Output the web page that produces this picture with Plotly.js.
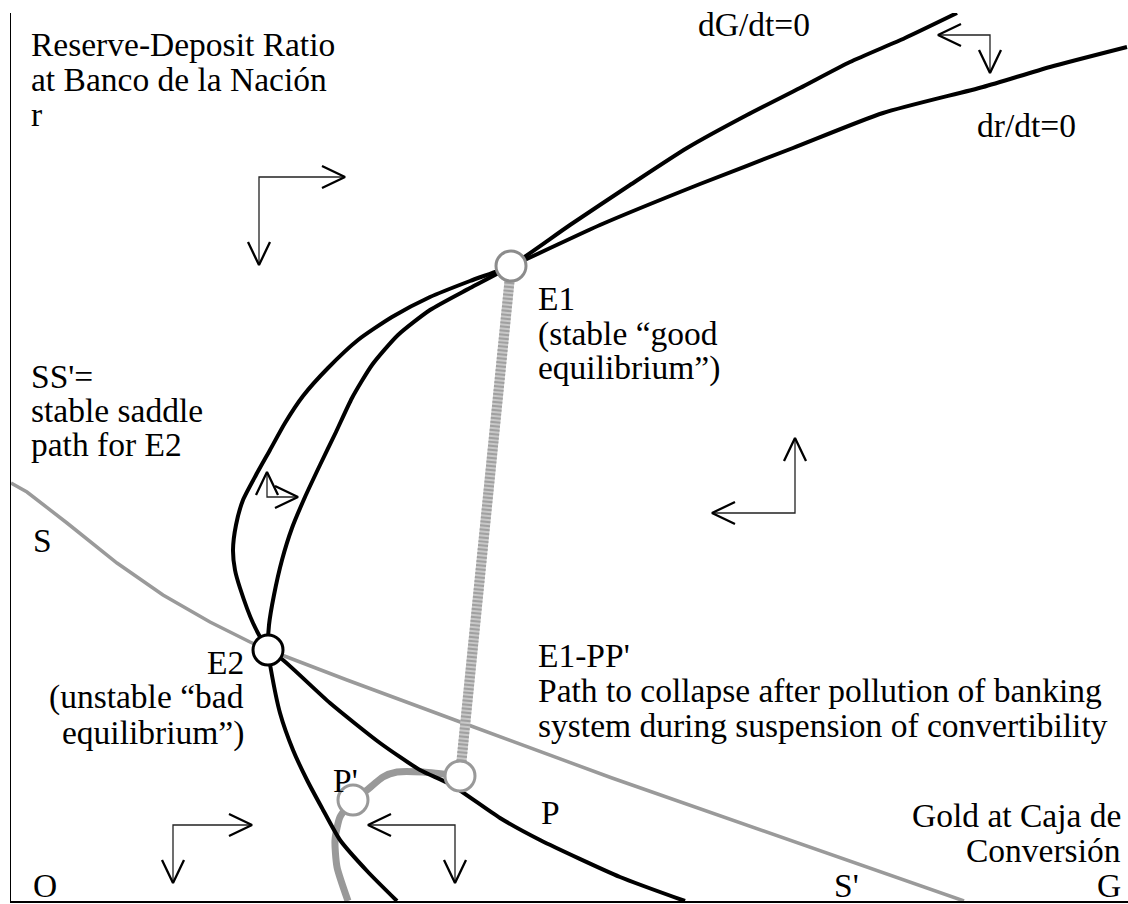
<!DOCTYPE html>
<html>
<head>
<meta charset="utf-8">
<script src="https://cdn.plot.ly/plotly-3.0.1.min.js"></script>
<style>html,body{margin:0;padding:0;background:#fff;}#chart{width:1128px;height:904px;}</style>
</head>
<body>
<div id="chart"></div>
<script>
// ---- Data (G = gold at Caja de Conversión, r = reserve-deposit ratio), chart units ----
// dG/dt = 0 locus
const dGdt0_G = [946, 894, 839, 789, 736, 676, 619, 559, 500, 459, 419, 387, 361, 341, 325, 309, 294, 281, 271, 263, 258, 257, 260, 269, 282, 296, 311, 329, 357, 386];
const dGdt0_r = [888, 863, 839, 813, 786, 753, 716, 676, 635, 613, 591, 566, 536, 503, 469, 436, 404, 373, 341, 306, 276, 251, 231, 188, 151, 121, 93, 61, 29, 0];
// dr/dt = 0 locus
const drdt0_G = [1116, 1039, 972, 872, 782, 689, 589, 500, 459, 419, 381, 347, 317, 292, 274, 259, 245, 232, 225, 222, 224, 229, 242, 257, 272, 319, 369, 409, 439, 489, 529, 609, 674];
const drdt0_r = [854, 834, 814, 788, 753, 717, 676, 635, 620, 604, 584, 561, 533, 505, 478, 451, 426, 401, 376, 351, 331, 313, 278, 251, 241, 198, 158, 131, 117, 83, 61, 24, 0];
// SS' stable saddle path for E2
const saddle_G = [0, 16, 56, 106, 152, 199, 239, 257, 276, 336, 452, 519, 601, 953];
const saddle_r = [418, 409, 378, 338, 306, 279, 259, 251, 244, 221, 178, 153, 123, 0];
// P -> P' collapse path
const collapse_G = [449, 412, 386, 372, 356, 342, 329, 324, 326, 337];
const collapse_r = [125, 129, 129, 124, 111, 101, 84, 61, 34, 0];
// Points: E1, E2, P, P'
const pointNames = ["E1", "E2", "P", "P'"];
const point_G = [500, 257, 449, 342];
const point_r = [635, 251, 125, 101];
// Phase arrows: corner, horizontal tip (G), vertical tip (r)
const arrowCorner_G = [248, 784, 162, 444, 979, 256];
const arrowCorner_r = [724, 388, 76, 76, 866, 404];
const arrowTip_G = [334, 701, 241, 357, 927, 287];
const arrowTip_r = [636, 463, 18, 18, 828, 429];
// Text labels
const labelText = [
  "Reserve-Deposit Ratio", "at Banco de la Nación", "r",
  "dG/dt=0", "dr/dt=0",
  "E1", "(stable \u201cgood", "equilibrium\u201d)",
  "SS'=", "stable saddle", "path for E2", "S",
  "E2", "(unstable \u201cbad", "equilibrium\u201d)",
  "E1-PP'", "Path to collapse after pollution of banking", "system during suspension of convertibility",
  "P'", "P",
  "Gold at Caja de", "Conversión", "G",
  "O", "S'"
];
const labelG = [19, 19, 19, 686, 965, 526, 526, 526, 19, 19, 19, 21, 234, 234, 234, 526, 526, 526, 321, 529, 1111, 1111, 1111, 21, 822];
const labelR = [857, 822, 787, 877, 776, 603, 567, 533, 525, 491, 457, 361, 239, 204, 168, 246, 211, 176, 121, 89, 86, 51, 16, 16, 16];
const labelAlign = ["left","left","left","left","left","left","left","left","left","left","left","left",
  "right","right","right","left","left","left","left","left","right","right","right","left","left"];

// ---- Build traces ----
const traces = [];
traces.push({x: saddle_G, y: saddle_r, mode: 'lines', line: {color: '#9a9a9a', width: 3.5}, hoverinfo: 'skip'});
// checkered link E1 -> P
traces.push({x: [point_G[0], point_G[2]], y: [point_r[0], point_r[2]], mode: 'lines', line: {color: '#c8c8c8', width: 10}, hoverinfo: 'skip'});
traces.push({x: [point_G[0], point_G[2]], y: [point_r[0], point_r[2]], mode: 'lines', line: {color: '#a0a0a0', width: 10, dash: '2px,2px'}, hoverinfo: 'skip'});
traces.push({x: collapse_G, y: collapse_r, mode: 'lines', line: {color: '#999999', width: 7, shape: 'spline', smoothing: 0.6}, hoverinfo: 'skip'});
traces.push({x: dGdt0_G, y: dGdt0_r, mode: 'lines', line: {color: '#000', width: 4, shape: 'spline', smoothing: 0.6}, hoverinfo: 'skip'});
traces.push({x: drdt0_G, y: drdt0_r, mode: 'lines', line: {color: '#000', width: 4, shape: 'spline', smoothing: 0.6}, hoverinfo: 'skip'});

// arrows
const headLen = 23, headHalf = 11;
const shaftX = [], shaftY = [], headX = [], headY = [];
for (let i = 0; i < arrowCorner_G.length; i++) {
  const cg = arrowCorner_G[i], cr = arrowCorner_r[i], tg = arrowTip_G[i], tr = arrowTip_r[i];
  shaftX.push(tg, cg, cg, null); shaftY.push(cr, cr, tr, null);
  const sx = Math.sign(tg - cg), sy = Math.sign(tr - cr);
  headX.push(tg - sx * headLen, tg, tg - sx * headLen, null);
  headY.push(cr + headHalf, cr, cr - headHalf, null);
  headX.push(cg - headHalf, cg, cg + headHalf, null);
  headY.push(tr - sy * headLen, tr, tr - sy * headLen, null);
}
traces.push({x: shaftX, y: shaftY, mode: 'lines', line: {color: '#222', width: 1.3}, hoverinfo: 'skip'});
traces.push({x: headX, y: headY, mode: 'lines', line: {color: '#000', width: 2.3}, hoverinfo: 'skip'});

// equilibrium points
traces.push({x: point_G, y: point_r, text: pointNames, mode: 'markers', cliponaxis: false,
  marker: {size: 30, color: '#fff', line: {width: 3, color: ['#8c8c8c', '#000', '#999', '#999']}}, hoverinfo: 'skip'});

const annotations = labelText.map((t, i) => ({
  text: t, x: labelG[i], y: labelR[i], xref: 'x', yref: 'y', showarrow: false,
  xanchor: labelAlign[i], yanchor: 'middle', align: labelAlign[i], borderpad: 0,
  font: {family: 'Liberation Serif, Times New Roman, serif', size: 33.5, color: '#000'}
}));

const layout = {
  width: 1128, height: 904,
  margin: {l: 11, r: 0, t: 13, b: 3, pad: 0},
  paper_bgcolor: '#fff', plot_bgcolor: '#fff',
  showlegend: false, hovermode: false,
  xaxis: {range: [0, 1117], showgrid: false, zeroline: false, showticklabels: false, ticks: '',
    showline: true, linecolor: '#000', linewidth: 1.5, fixedrange: true},
  yaxis: {range: [0, 888], showgrid: false, zeroline: false, showticklabels: false, ticks: '',
    showline: true, linecolor: '#000', linewidth: 1.5, fixedrange: true},
  annotations: annotations
};

Plotly.newPlot('chart', traces, layout, {displayModeBar: false, staticPlot: true});
</script>
</body>
</html>
